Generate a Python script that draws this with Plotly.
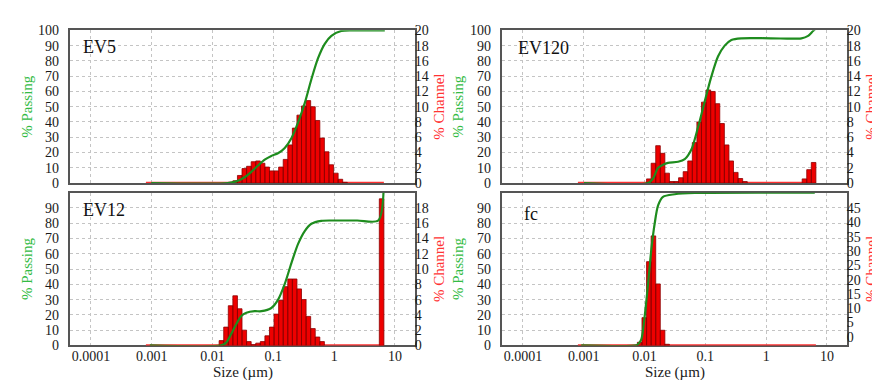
import plotly.graph_objects as go

# ---------------- data ----------------
# Microtrac channel edges (µm), 52 channels
CHANNEL_EDGES_UM = [
    0.000801940, 0.000953674, 0.00113412, 0.00134869, 0.00160387, 0.00190735,
    0.00226824, 0.00269739, 0.00320774, 0.00381470, 0.00453648, 0.00539478,
    0.00641549, 0.00762939, 0.00907296, 0.0107896, 0.0128310, 0.0152588,
    0.0181459, 0.0215791, 0.0256620, 0.0305176, 0.0362918, 0.0431583,
    0.0513240, 0.0610352, 0.0725837, 0.0863167, 0.102648, 0.122070,
    0.145167, 0.172633, 0.205296, 0.244141, 0.290335, 0.345267,
    0.410592, 0.488281, 0.580669, 0.690534, 0.821185, 0.976563,
    1.16134, 1.38107, 1.64237, 1.95313, 2.32268, 2.76214,
    3.28474, 3.90625, 4.64535, 5.52427, 6.56948,
]

EV5_CHANNEL = [0]*18 + [0.1, 0.3, 1.0, 1.9, 2.2, 2.8, 2.9, 2.6, 2.1, 1.6, 1.6, 2.1, 3.1,
                        5.0, 7.2, 8.9, 10.1, 10.8, 10.0, 8.2, 5.9, 4.1, 2.4, 1.3, 0.5, 0.1] + [0]*8
EV120_CHANNEL = [0]*15 + [0.55, 2.6, 4.9, 3.9, 1.3, 0.2, 0.2, 0.7, 1.5, 2.9, 5.3, 8.0, 10.6,
                          12.2, 12.0, 10.4, 7.8, 5.0, 2.9, 1.4, 0.6, 0.2] + [0]*12 + [0.55, 1.76, 2.7]
EV12_CHANNEL = [0]*16 + [0.63, 2.4, 5.2, 6.5, 4.8, 2.0, 0.5, 0.1, 0.3, 0.5, 1.26, 2.4, 4.1,
                         5.9, 7.7, 8.7, 8.7, 7.4, 6.0, 3.8, 2.2, 1.1, 0.5] + [0]*12 + [19.2]
FC_CHANNEL = [0]*13 + [1.1, 9.7, 29.3, 38.3, 21.5, 5.3, 0.4] + [0]*32

EV5_PASS_SIZE = [0.00098, 0.018, 0.0262, 0.0338, 0.0435, 0.056, 0.0721, 0.0927, 0.119, 0.154,
                 0.198, 0.255, 0.328, 0.422, 0.543, 0.70, 0.90, 1.31, 2.0, 6.8]
EV5_PASS = [0, 0, 1.5, 3.8, 7.3, 11.5, 15.3, 17.8, 19.5, 23, 29.4, 39.8, 52.4, 68, 81.8,
            91.2, 96.4, 99.6, 100, 100]

EV120_PASS_SIZE = [0.00101, 0.0114, 0.0138, 0.0167, 0.0201, 0.0243, 0.0356, 0.0458, 0.0589,
                   0.0759, 0.0977, 0.126, 0.162, 0.208, 0.268, 0.391, 1.2, 3.8, 4.89, 5.9, 6.9]
EV120_PASS = [0, 0, 3, 10, 12, 13.2, 14, 15.7, 22, 36.7, 53.5, 70, 83, 90, 93.7, 94.8,
              94.8, 94.8, 96.4, 99.6, 102]

EV12_PASS_SIZE = [0.00093, 0.0139, 0.0169, 0.0204, 0.0246, 0.0297, 0.036, 0.0494, 0.0636,
                  0.0927, 0.119, 0.154, 0.198, 0.255, 0.328, 0.422, 0.615, 1.02, 2.4, 5.3, 6.5]
EV12_PASS = [0, 0, 2, 7.8, 14, 19.3, 21.4, 22.4, 22.4, 24.5, 29.8, 40.3, 53.9, 66.5, 74.9,
             79.7, 81.6, 81.8, 81.8, 81.8, 102]

FC_PASS_SIZE = [0.00091, 0.0073, 0.0079, 0.00885, 0.01007, 0.0114, 0.01294, 0.0147, 0.0167,
                0.0201, 0.0314, 0.0668, 6.3]
FC_PASS = [0, 0, 1, 4, 19.3, 40, 63, 80, 91.7, 97.3, 99, 99.8, 100]

PANEL_NAMES = ["EV5", "EV120", "EV12", "fc"]
X_TICKS = [0.0001, 0.001, 0.01, 0.1, 1, 10]
X_TICK_TEXT = ["0.0001", "0.001", "0.01", "0.1", "1", "10"]

# ---------------- styling ----------------
W, H = 880, 380
FONT = "Liberation Serif"
GREEN_LINE = "#1e8c1e"
GREEN_TXT = "#33bb44"
RED_TXT = "#ff3333"
BAR_FILL = "#ee0000"
BAR_EDGE = "#8b0000"
BASE_RED = "#ff3030"
FRAME = "#555555"
GRID = "#c4c4c4"
ROT_SHIFT = 8  # rotated annotations render offset to the right


def fx(p):
    return p / W


def fy(p):
    return 1 - p / H


panels = [
    dict(name=PANEL_NAMES[0], ch=EV5_CHANNEL, ps=EV5_PASS_SIZE, pv=EV5_PASS,
         xd=[fx(62), fx(407)], yd=[fy(175), fy(16)], chr=[0, 20], cht=list(range(0, 21, 2)),
         pt=list(range(0, 101, 10)), base=0, xlab=False, lab=(73, 33)),
    dict(name=PANEL_NAMES[1], ch=EV120_CHANNEL, ps=EV120_PASS_SIZE, pv=EV120_PASS,
         xd=[fx(494), fx(839)], yd=[fy(175), fy(16)], chr=[0, 20], cht=list(range(0, 21, 2)),
         pt=list(range(0, 101, 10)), base=0, xlab=False, lab=(508, 34)),
    dict(name=PANEL_NAMES[2], ch=EV12_CHANNEL, ps=EV12_PASS_SIZE, pv=EV12_PASS,
         xd=[fx(62), fx(407)], yd=[fy(344), fy(185)], chr=[0, 20], cht=list(range(0, 19, 2)),
         pt=list(range(0, 91, 10)), base=0, xlab=True, lab=(73, 203)),
    dict(name=PANEL_NAMES[3], ch=FC_CHANNEL, ps=FC_PASS_SIZE, pv=FC_PASS,
         xd=[fx(494), fx(839)], yd=[fy(344), fy(185)], chr=[-3.0, 50.4], cht=list(range(0, 46, 5)),
         pt=list(range(0, 91, 10)), base=-3.0, xlab=True, lab=(514, 207)),
]

fig = go.Figure()
layout = dict(width=W, height=H, margin=dict(l=0, r=0, t=0, b=0), autosize=False,
              paper_bgcolor="white", plot_bgcolor="white", showlegend=False,
              font=dict(family=FONT, size=13, color="#1a1a1a"))
annotations = []
TICKFONT = dict(family=FONT, size=14, color="#1a1a1a")

for i, p in enumerate(panels):
    k = i + 1
    xs = "" if k == 1 else str(k)
    ych = str(2 * k - 1)
    yps = str(2 * k)
    yid_ch = "y" if ych == "1" else "y" + ych
    yid_ps = "y" + yps
    xid = "x" + xs

    # bars as polygons
    bx, by = [], []
    for j, v in enumerate(p["ch"]):
        if v > 0:
            a, b = CHANNEL_EDGES_UM[j], CHANNEL_EDGES_UM[j + 1]
            top = p["base"] + v
            bx += [a, a, b, b, a, None]
            by += [p["base"], top, top, p["base"], p["base"], None]
    fig.add_trace(go.Scatter(x=[CHANNEL_EDGES_UM[0], CHANNEL_EDGES_UM[-1]], y=[p["base"], p["base"]],
                             mode="lines", line=dict(color=BASE_RED, width=2.5),
                             xaxis=xid, yaxis=yid_ch, hoverinfo="skip"))
    fig.add_trace(go.Scatter(x=bx, y=by, mode="lines", fill="toself", fillcolor=BAR_FILL,
                             line=dict(color=BAR_EDGE, width=0.8), xaxis=xid, yaxis=yid_ch,
                             hoverinfo="skip"))
    fig.add_trace(go.Scatter(x=p["ps"], y=p["pv"], mode="lines",
                             line=dict(color=GREEN_LINE, width=2.2, shape="spline", smoothing=0.8),
                             xaxis=xid, yaxis=yid_ps, hoverinfo="skip"))

    layout["xaxis" + xs] = dict(
        type="log", range=[-4.344, 1.329], domain=p["xd"], anchor=yid_ch,
        tickvals=X_TICKS, ticktext=X_TICK_TEXT, showticklabels=p["xlab"], ticks="", ticklen=0,
        ticklabelstandoff=-3,
        showgrid=True, gridcolor=GRID, griddash="dot", gridwidth=1,
        showline=True, mirror=True, linecolor=FRAME, linewidth=2, zeroline=False,
        layer="below traces", tickfont=TICKFONT)
    layout["yaxis" + ("" if ych == "1" else ych)] = dict(
        domain=p["yd"], anchor=xid, side="right", range=p["chr"], tickvals=p["cht"],
        ticks="", ticklen=0, ticklabelstandoff=-5, showgrid=False, zeroline=False,
        showline=True, mirror=True, linecolor=FRAME, linewidth=2, layer="below traces",
        tickfont=TICKFONT)
    layout["yaxis" + yps] = dict(
        overlaying=yid_ch, anchor=xid, side="left", range=[0, 100], tickvals=p["pt"],
        ticks="", ticklen=0, ticklabelstandoff=10, showgrid=True, gridcolor=GRID, griddash="dot",
        gridwidth=1, zeroline=False, showline=False, layer="below traces",
        tickfont=TICKFONT)

    annotations.append(dict(text=p["name"], x=fx(p["lab"][0]), y=fy(p["lab"][1]), xref="paper",
                            yref="paper", xanchor="left", yanchor="middle", showarrow=False,
                            font=dict(family=FONT, size=18, color="#111111")))
    left_px = 27 if p["xd"][0] < 0.3 else 458
    right_px = 439 if p["xd"][0] < 0.3 else 871
    cy = (1 - p["yd"][0]) * H / 2 + (1 - p["yd"][1]) * H / 2
    annotations.append(dict(text="% Passing", x=fx(left_px - ROT_SHIFT), y=fy(cy), xref="paper",
                            yref="paper", textangle=-90, showarrow=False, xanchor="center",
                            yanchor="middle", font=dict(family=FONT, size=15, color=GREEN_TXT)))
    annotations.append(dict(text="% Channel", x=fx(right_px - ROT_SHIFT), y=fy(cy), xref="paper",
                            yref="paper", textangle=-90, showarrow=False, xanchor="center",
                            yanchor="middle", font=dict(family=FONT, size=15, color=RED_TXT)))
    if p["xlab"]:
        cx = (p["xd"][0] + p["xd"][1]) / 2
        annotations.append(dict(text="Size (µm)", x=cx, y=fy(372), xref="paper", yref="paper",
                                showarrow=False, xanchor="center", yanchor="middle",
                                font=dict(family=FONT, size=15, color="#1a1a1a")))

layout["annotations"] = annotations
fig.update_layout(**layout)
fig.write_html("out.html")
